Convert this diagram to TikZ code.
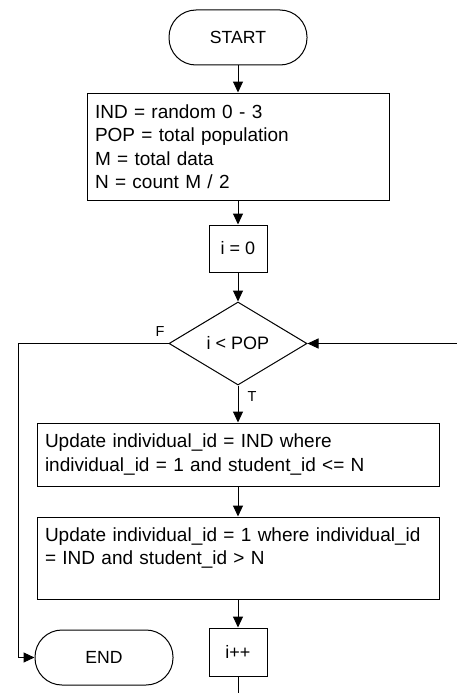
\documentclass[tikz,border=0pt]{standalone}
\usepackage{fontspec}
\setmainfont{Liberation Sans}
\usetikzlibrary{arrows.meta,shapes.geometric}
\tikzset{
  base/.style={draw, line width=1pt, inner sep=0pt},
  term/.style={base, minimum width=138pt, minimum height=55pt, rounded corners=27pt, font=\fontsize{17.6}{21}\selectfont},
  procbox/.style={base, align=left, inner xsep=8pt, font=\fontsize{19}{23.5}\selectfont},
  smallbox/.style={base, minimum width=58pt, font=\fontsize{18}{21}\selectfont},
  decision/.style={base, diamond, minimum width=138pt, minimum height=83pt, font=\fontsize{18}{21}\selectfont},
  flow/.style={line width=1pt, -{Triangle[length=11pt,width=10pt]}},
  plain/.style={line width=1pt},
  tflabel/.style={font=\fontsize{14.5}{16}\selectfont, inner sep=0pt}
}
\begin{document}
\begin{tikzpicture}[x=1pt,y=-1pt]
\useasboundingbox (0,0) rectangle (457,693);
\node[term] (start) at (238,37.5) {START};
\node[procbox, text width=286pt, minimum height=107pt] (box1) at (238,146.5)
  {IND = random 0 - 3\\POP = total population\\M = total data\\N = count M / 2};
\node[smallbox, minimum height=47pt] (i0) at (238,248.5) {i = 0};
\node[decision] (dec) at (238,343.5) {i < POP};
\node[procbox, text width=386pt, minimum height=63pt] (box2) at (238,454.5)
  {Update individual\_id = IND where\\individual\_id = 1 and student\_id <= N};
\node[procbox, text width=386pt, minimum height=82pt] (box3) at (238,558)
  {Update individual\_id = 1 where individual\_id\\= IND and student\_id > N\\\mbox{}};
\node[term] (end) at (104,657.5) {END};
\node[smallbox, minimum height=48pt] (inc) at (238,652) {i++};
\coordinate (cl) at (18,343.5);
\coordinate (cend) at (18,657.5);
\coordinate (cr) at (457,343.5);
\coordinate (cb) at (238,693);
\node[tflabel] (flab) at (160,332) {F};
\node[tflabel] (tlab) at (252,397) {T};
\draw[flow] (start) -- (box1);
\draw[flow] (box1) -- (i0);
\draw[flow] (i0) -- (dec);
\draw[flow] (dec.south) -- (box2);
\draw[flow] (box2) -- (box3);
\draw[flow] (box3) -- (inc);
\draw[flow] (dec.west) -- (cl) -- (cend) -- (end);
\draw[flow] (cr) -- (dec.east);
\draw[plain] (inc) -- (cb);
\end{tikzpicture}
\end{document}
